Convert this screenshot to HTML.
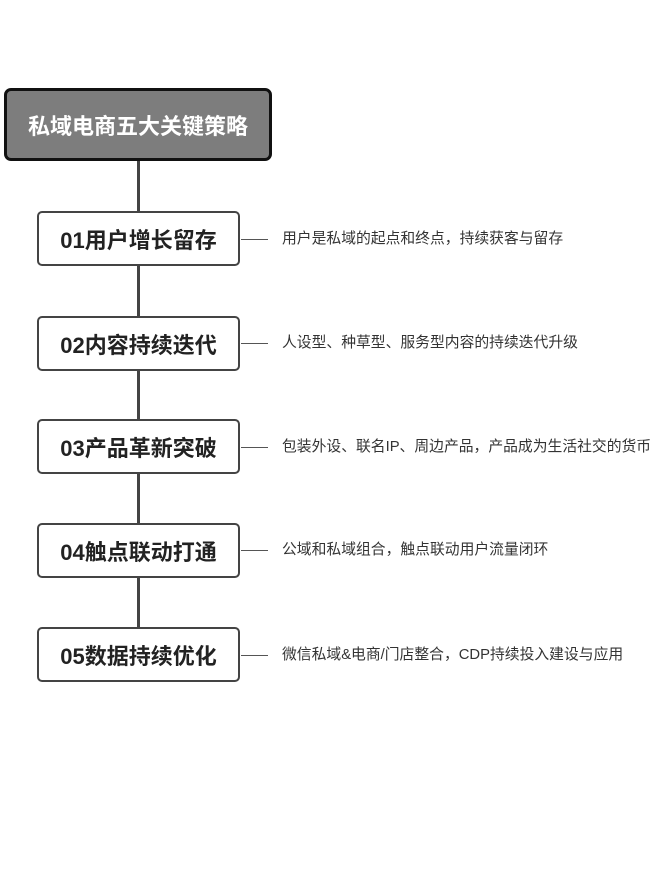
<!DOCTYPE html>
<html><head><meta charset="utf-8"><style>
body{margin:0;width:660px;height:879px;background:#fff;position:relative;overflow:hidden;font-family:"Liberation Sans","Noto Sans CJK SC",sans-serif}
.v{position:absolute;left:137px;width:3px;background:#444}
.top{position:absolute;left:4px;top:88px;width:262px;height:67px;background:#7d7d7d;border:3px solid #111;border-radius:7px;color:#fff;font-weight:bold;font-size:22px;display:flex;align-items:center;justify-content:center}
.b{position:absolute;left:37px;width:199px;height:51px;border:2px solid #444;border-radius:5px;background:#fff;color:#222;font-weight:bold;font-size:22px;display:flex;align-items:center;justify-content:center}
.h{position:absolute;left:241px;width:27px;height:1px;background:#555}
.t{position:absolute;left:282px;font-size:14.8px;color:#333;line-height:18px;white-space:nowrap}
</style></head><body>
<div class="v" style="top:158px;height:500px"></div>
<div class="top">私域电商五大关键策略</div>
<div class="b" style="top:211px">01用户增长留存</div>
<div class="h" style="top:239px"></div><div class="t" style="top:230px">用户是私域的起点和终点，持续获客与留存</div>
<div class="b" style="top:316px">02内容持续迭代</div>
<div class="h" style="top:343px"></div><div class="t" style="top:334px">人设型、种草型、服务型内容的持续迭代升级</div>
<div class="b" style="top:419px">03产品革新突破</div>
<div class="h" style="top:447px"></div><div class="t" style="top:438px">包装外设、联名IP、周边产品，产品成为生活社交的货币</div>
<div class="b" style="top:523px">04触点联动打通</div>
<div class="h" style="top:550px"></div><div class="t" style="top:541px">公域和私域组合，触点联动用户流量闭环</div>
<div class="b" style="top:627px">05数据持续优化</div>
<div class="h" style="top:655px"></div><div class="t" style="top:646px">微信私域&amp;电商/门店整合，CDP持续投入建设与应用</div>
</body></html>
